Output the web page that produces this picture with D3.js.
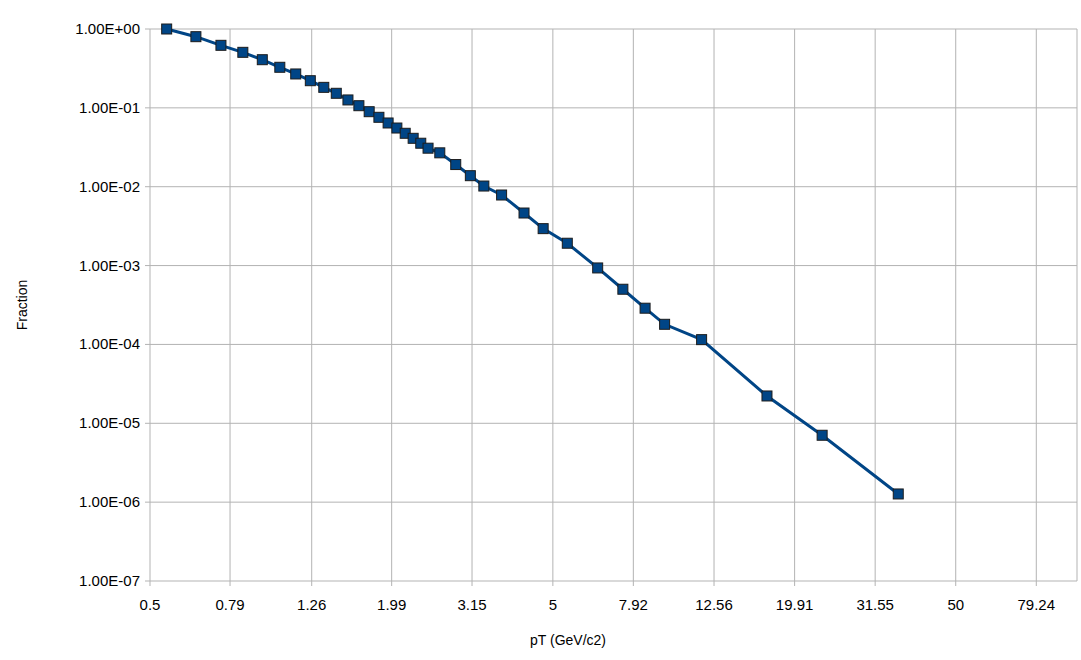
<!DOCTYPE html>
<html lang="en">
<head>
<meta charset="UTF-8">
<title>Fraction vs pT</title>
<script src="https://d3js.org/d3.v7.min.js"></script>
<style>
  body { margin: 0; background: #fff; }
  text { font-family: "Liberation Sans", Arial, sans-serif; fill: #000; }
</style>
</head>
<body>
<svg id="main" width="1081" height="660"></svg>
<script>
// pT values (GeV/c2) and fractions
let ptValues = [0.55, 0.65, 0.75, 0.85, 0.95, 1.05, 1.15, 1.25, 1.35, 1.45, 1.55, 1.65, 1.75, 1.85, 1.95,
    2.05, 2.15, 2.25, 2.35, 2.45, 2.62, 2.87, 3.12, 3.37, 3.73, 4.24, 4.73, 5.43, 6.46, 7.46, 8.47, 9.47,
    11.7, 17, 23.3, 36];
let fractions = [1.0, 0.799, 0.621, 0.506, 0.408, 0.327, 0.269, 0.221, 0.182, 0.153, 0.126, 0.1065, 0.0894,
    0.0759, 0.0643, 0.0555, 0.0476, 0.0411, 0.0356, 0.0308, 0.0269, 0.0191, 0.0138, 0.0102, 0.00785,
    0.00464, 0.00294, 0.00192, 0.000933, 0.000501, 0.000288, 0.000180, 0.000115, 2.22e-5, 7.05e-6, 1.27e-6];
let xTicks = [0.5, 0.79, 1.26, 1.99, 3.15, 5, 7.92, 12.56, 19.91, 31.55, 50, 79.24];
let yTicks = [1, 1e-1, 1e-2, 1e-3, 1e-4, 1e-5, 1e-6, 1e-7];

let plotLeft = 150, plotRight = 1077, plotTop = 29, plotBottom = 581;

let x = d3.scaleLog().domain([0.5, 100]).range([plotLeft, plotRight]);
let y = d3.scaleLog().domain([1e-7, 1]).range([plotBottom, plotTop]);

let svg = d3.select('svg#main');

// grid
svg.append('g').selectAll('line').data(xTicks).enter().append('line')
    .attr('x1', d => x(d)).attr('x2', d => x(d))
    .attr('y1', plotTop).attr('y2', plotBottom + 5)
    .attr('stroke', '#b3b3b3');
svg.append('g').selectAll('line').data(yTicks).enter().append('line')
    .attr('x1', plotLeft - 5).attr('x2', plotRight)
    .attr('y1', d => y(d)).attr('y2', d => y(d))
    .attr('stroke', '#b3b3b3');
svg.append('line').attr('x1', plotRight).attr('x2', plotRight)
    .attr('y1', plotTop).attr('y2', plotBottom).attr('stroke', '#b3b3b3');

// tick labels
svg.append('g').selectAll('text').data(xTicks).enter().append('text')
    .attr('x', d => x(d)).attr('y', 610)
    .attr('text-anchor', 'middle').style('font-size', '15px')
    .text(d => d);
svg.append('g').selectAll('text').data(yTicks).enter().append('text')
    .attr('x', 140).attr('y', d => y(d) + 5)
    .attr('text-anchor', 'end').style('font-size', '15px')
    .text(d => d.toExponential(2).toUpperCase().replace(/E([+-])(\d)$/, 'E$10$2'));

// axis titles
svg.append('text').attr('x', 568).attr('y', 645).attr('text-anchor', 'middle')
    .style('font-size', '14px').text('pT (GeV/c2)');
svg.append('text').attr('transform', 'translate(27,305) rotate(-90)').attr('text-anchor', 'middle')
    .style('font-size', '14px').text('Fraction');

// series
let pts = ptValues.map((v, i) => [v, fractions[i]]);
svg.append('path').datum(pts)
    .attr('fill', 'none').attr('stroke', '#004586').attr('stroke-width', 3)
    .attr('d', d3.line().x(d => x(d[0])).y(d => y(d[1])));
svg.append('g').selectAll('rect').data(pts).enter().append('rect')
    .attr('x', d => x(d[0]) - 5).attr('y', d => y(d[1]) - 5)
    .attr('width', 10).attr('height', 10)
    .attr('fill', '#004586').attr('stroke', '#1c1c1c').attr('stroke-width', 1);
</script>
</body>
</html>
